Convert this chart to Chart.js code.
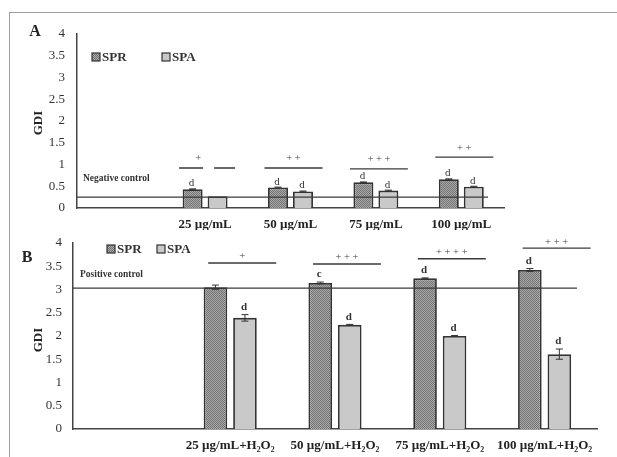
<!DOCTYPE html>
<html>
<head>
<meta charset="utf-8">
<script src="https://cdn.jsdelivr.net/npm/chart.js@4.4.0/dist/chart.umd.min.js"></script>
<style>
body { margin: 0; background: #fff; width: 617px; height: 457px; overflow: hidden; position: relative; }
#frame { position: absolute; left: 9px; top: 12px; width: 640px; height: 480px; border-top: 1.5px solid #a0a0a0; border-left: 1.5px solid #a0a0a0; }
canvas { position: absolute; left: 0; }
#chartA { top: 0; }
#chartB { top: 224px; }
</style>
</head>
<body>
<div id="frame"></div>
<canvas id="chartA" width="617" height="230"></canvas>
<canvas id="chartB" width="617" height="233"></canvas>
<script>
// panel A: extract alone
const labelsA = ['', '25 µg/mL', '50 µg/mL', '75 µg/mL', '100 µg/mL'];
const sprA = [null, 0.43, 0.47, 0.59, 0.66];
const spaA = [null, 0.27, 0.38, 0.40, 0.49];
const sprErrA = [0, 0.01, 0.01, 0.01, 0.01];
const spaErrA = [0, 0.00, 0.01, 0.01, 0.01];
const sprLettersA = ['', 'd', 'd', 'd', 'd'];
const spaLettersA = ['', '', 'd', 'd', 'd'];
const sigTextA = ['', '+', '++', '+++', '++'];
const sigLevelA = [null, 0.92, 0.92, 0.90, 1.17];
const negativeControl = 0.25;

// panel B: extract + H2O2
const labelsB = ['', '25 µg/mL+H₂O₂', '50 µg/mL+H₂O₂', '75 µg/mL+H₂O₂', '100 µg/mL+H₂O₂'];
const sprB = [null, 3.05, 3.14, 3.24, 3.42];
const spaB = [null, 2.39, 2.24, 2.00, 1.61];
const sprErrB = [0, 0.045, 0.02, 0.01, 0.03];
const spaErrB = [0, 0.07, 0.01, 0.01, 0.11];
const sprLettersB = ['', '', 'c', 'd', 'd'];
const spaLettersB = ['', 'd', 'd', 'd', 'd'];
const sigTextB = ['', '+', '+++', '++++', '+++'];
const sigLevelB = [null, 3.57, 3.55, 3.66, 3.89];
const positiveControl = 3.03;

const yTicks = [0, 0.5, 1, 1.5, 2, 2.5, 3, 3.5, 4];

const SERIF = '"Liberation Serif", "Times New Roman", serif';
Chart.defaults.color = '#333';
Chart.defaults.font.family = SERIF;

function makePattern() {
    const c = document.createElement('canvas');
    c.width = 2; c.height = 2;
    const g = c.getContext('2d');
    g.fillStyle = '#a8a8a8'; g.fillRect(0, 0, 2, 2);
    g.fillStyle = '#747474'; g.fillRect(0, 0, 1, 1); g.fillRect(1, 1, 1, 1);
    return g.createPattern(c, 'repeat');
}
const sprFill = makePattern();
const spaFill = '#c9c9c9';

const annotPlugin = {
    id: 'annot',
    afterDatasetsDraw(chart, args, o) {
        const ctx = chart.ctx;
        const x = chart.scales.x, y = chart.scales.y, area = chart.chartArea;
        ctx.save();

        // control line
        ctx.strokeStyle = '#3a3a3a';
        ctx.lineWidth = 1.3;
        const cy = y.getPixelForValue(o.control);
        ctx.beginPath();
        ctx.moveTo(area.left, cy);
        ctx.lineTo(area.right - o.controlGap, cy);
        ctx.stroke();

        // error bars + letters
        chart.data.datasets.forEach((ds, i) => {
            const meta = chart.getDatasetMeta(i);
            meta.data.forEach((bar, j) => {
                if (ds.data[j] == null) return;
                const err = ds.errors[j];
                const top = y.getPixelForValue(ds.data[j] + err);
                if (err > 0) {
                    const bot = y.getPixelForValue(ds.data[j] - err);
                    ctx.strokeStyle = '#333';
                    ctx.lineWidth = 1;
                    ctx.beginPath();
                    ctx.moveTo(bar.x, top); ctx.lineTo(bar.x, bot);
                    ctx.moveTo(bar.x - 3.5, top); ctx.lineTo(bar.x + 3.5, top);
                    ctx.moveTo(bar.x - 3.5, bot); ctx.lineTo(bar.x + 3.5, bot);
                    ctx.stroke();
                }
                if (ds.letters[j]) {
                    ctx.fillStyle = '#333';
                    ctx.font = o.letterFont;
                    ctx.textAlign = 'center';
                    ctx.textBaseline = 'bottom';
                    ctx.fillText(ds.letters[j], bar.x - 1, top - o.letterGap);
                }
            });
        });

        // significance lines
        o.sigText.forEach((t, i) => {
            if (!t) return;
            const c = x.getPixelForValue(i) + o.sigOffset;
            const ly = y.getPixelForValue(o.sigLevel[i]);
            ctx.strokeStyle = '#3a3a3a';
            ctx.lineWidth = 1.4;
            ctx.beginPath();
            if (o.splitFirst && i === 1) {
                ctx.moveTo(c - o.sigHalf, ly); ctx.lineTo(c - 5, ly);
                ctx.moveTo(c + 6, ly); ctx.lineTo(c + o.sigHalf - 2, ly);
            } else {
                ctx.moveTo(c - o.sigHalf, ly); ctx.lineTo(c + o.sigHalf, ly);
            }
            ctx.stroke();
            ctx.fillStyle = '#444';
            ctx.font = '10.5px ' + SERIF;
            ctx.textAlign = 'center';
            ctx.textBaseline = 'bottom';
            const tx = (o.splitFirst && i === 1) ? c - 10 : c;
            ctx.fillText(t.split('').join(' '), tx, ly - o.sigTextGap);
        });
        ctx.restore();
    },
    afterDraw(chart, args, o) {
        const ctx = chart.ctx;
        ctx.save();
        ctx.fillStyle = '#222';
        // panel letter
        ctx.font = 'bold 16px ' + SERIF;
        ctx.textAlign = 'center';
        ctx.textBaseline = 'middle';
        ctx.fillText(o.panel, o.panelX, o.panelY);
        // GDI title
        ctx.save();
        ctx.translate(39, o.titleY);
        ctx.rotate(-Math.PI / 2);
        ctx.font = 'bold 13px ' + SERIF;
        ctx.fillText('GDI', 0, 0);
        ctx.restore();
        // control label
        ctx.font = 'bold 9.5px ' + SERIF;
        ctx.textAlign = 'left';
        ctx.fillStyle = '#333';
        ctx.fillText(o.controlLabel, o.controlLabelX, o.controlLabelY);
        // legend
        const fills = [sprFill, spaFill];
        chart.data.datasets.forEach((ds, i) => {
            const lx = o.legendX[i], ly = o.legendY;
            ctx.fillStyle = fills[i];
            ctx.fillRect(lx, ly - 4, 8, 8);
            ctx.strokeStyle = '#333';
            ctx.lineWidth = 1.2;
            ctx.strokeRect(lx, ly - 4, 8, 8);
            ctx.fillStyle = '#333';
            ctx.font = 'bold 13px ' + SERIF;
            ctx.textBaseline = 'middle';
            ctx.fillText(ds.label, lx + 10, ly + 1);
        });
        ctx.restore();
    }
};

function buildChart(id, labels, spr, spa, sprErr, spaErr, sprLet, spaLet, cfg) {
    return new Chart(document.getElementById(id), {
        type: 'bar',
        data: {
            labels: labels,
            datasets: [
                { label: 'SPR', data: spr, errors: sprErr, letters: sprLet, backgroundColor: sprFill, borderColor: '#333', borderWidth: 1.8 },
                { label: 'SPA', data: spa, errors: spaErr, letters: spaLet, backgroundColor: spaFill, borderColor: '#333', borderWidth: 1.8 }
            ]
        },
        options: {
            responsive: false,
            animation: false,
            categoryPercentage: cfg.catPct,
            barPercentage: 0.8,
            layout: { padding: { left: 0, right: cfg.padRight, top: cfg.padTop, bottom: 0 } },
            plugins: {
                legend: { display: false },
                tooltip: { enabled: false },
                annot: cfg.annot
            },
            scales: {
                x: {
                    grid: { display: false, drawTicks: false },
                    border: { display: true, color: '#444', width: 1.5 },
                    ticks: { padding: 9, font: { size: 13, weight: 'bold' }, color: '#222', maxRotation: 0, autoSkip: false },
                    afterFit: s => { s.height = cfg.xHeight; }
                },
                y: {
                    min: 0, max: 4,
                    afterBuildTicks: s => { s.ticks = yTicks.map(v => ({ value: v })); },
                    grid: { display: false, drawTicks: false },
                    border: { display: true, color: '#444', width: 1.5 },
                    ticks: { padding: cfg.yPad, font: { size: 13 }, color: '#333', callback: v => String(v) },
                    afterFit: s => { s.width = cfg.yWidth; }
                }
            }
        },
        plugins: [annotPlugin]
    });
}

buildChart('chartA', labelsA, sprA, spaA, sprErrA, spaErrA, sprLettersA, spaLettersA, {
    catPct: 0.585, padRight: 113, padTop: 34, xHeight: 22, yWidth: 77, yPad: 12,
    annot: {
        panel: 'A', panelX: 35, panelY: 32, titleY: 123,
        control: negativeControl, controlGap: 16,
        controlLabel: 'Negative control', controlLabelX: 83, controlLabelY: 179,
        sigText: sigTextA, sigLevel: sigLevelA, sigOffset: 3, sigHalf: 29, sigTextGap: 4, splitFirst: true,
        letterFont: '11px ' + SERIF, letterGap: 0,
        legendX: [92, 162], legendY: 57
    }
});

buildChart('chartB', labelsB, sprB, spaB, sprErrB, spaErrB, sprLettersB, spaLettersB, {
    catPct: 0.563, padRight: 20, padTop: 19, xHeight: 28, yWidth: 73, yPad: 11,
    annot: {
        panel: 'B', panelX: 27, panelY: 34, titleY: 116,
        control: positiveControl, controlGap: 20,
        controlLabel: 'Positive control', controlLabelX: 80, controlLabelY: 51,
        sigText: sigTextB, sigLevel: sigLevelB, sigOffset: 12, sigHalf: 34, sigTextGap: 1, splitFirst: false,
        letterFont: 'bold 11px ' + SERIF, letterGap: 2,
        legendX: [107, 157], legendY: 25
    }
});
</script>
</body>
</html>
